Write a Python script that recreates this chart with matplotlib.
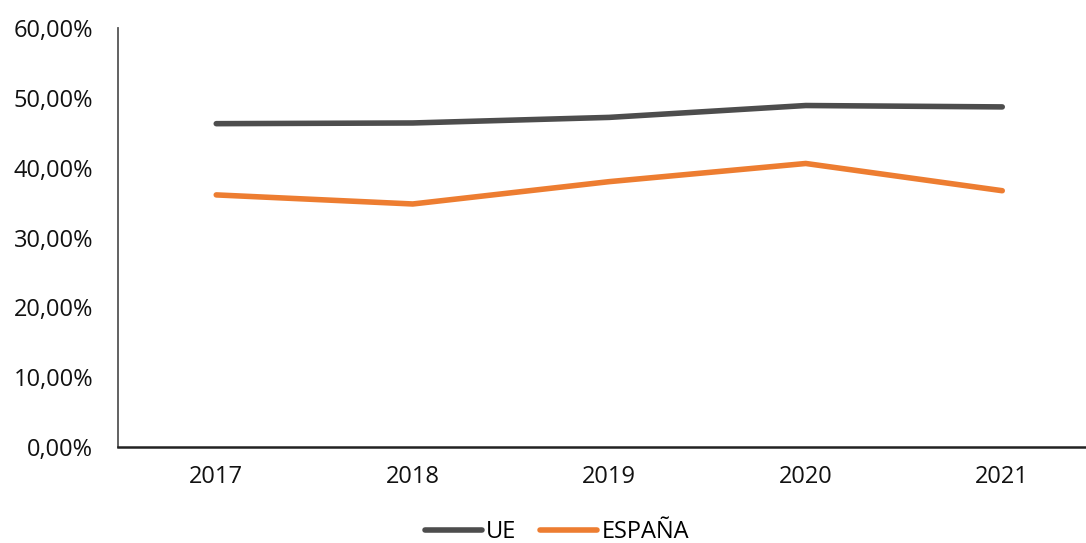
import matplotlib
matplotlib.use("Agg")
import matplotlib.pyplot as plt
from matplotlib.ticker import FuncFormatter

years = ["2017", "2018", "2019", "2020", "2021"]
ue = [46.3, 46.4, 47.2, 48.9, 48.7]
espana = [36.1, 34.8, 38.0, 40.6, 36.7]

plt.rcParams['font.family'] = ['Open Sans', 'DejaVu Sans']

fig = plt.figure(figsize=(10.86, 5.43), dpi=100)
ax = fig.add_axes([118/1086, (543-447)/543, 1 - 118/1086, (447-28)/543])

x = list(range(len(years)))
ax.plot(x, ue, color="#4d4d4d", lw=4.0, solid_capstyle="round", label="UE")
ax.plot(x, espana, color="#ED7D31", lw=4.0, solid_capstyle="round", label="ESPAÑA")

ax.set_ylim(0, 60)
ax.set_yticks(range(0, 61, 10))
ax.yaxis.set_major_formatter(FuncFormatter(lambda v, p: f"{v:.2f}%".replace(".", ",")))
ax.set_xlim(-0.5, (1086-118)/196.5 - 0.5)
ax.set_xticks(x)
ax.set_xticklabels(years)
ax.tick_params(length=0, labelsize=17, colors="#111111")
ax.tick_params(axis="y", pad=18)
ax.tick_params(axis="x", pad=13)
for s in ["top", "right"]:
    ax.spines[s].set_visible(False)
ax.spines["left"].set_color("#555555")
ax.spines["left"].set_linewidth(1.3)
ax.spines["bottom"].set_color("#222222")
ax.spines["bottom"].set_linewidth(1.8)

fig.legend(loc="center", bbox_to_anchor=(557/1086, 1 - 532/543), ncol=2, frameon=False,
           fontsize=17, handlelength=2.4, handletextpad=0.2, columnspacing=1.0)

fig.savefig("out.png", dpi=100)
